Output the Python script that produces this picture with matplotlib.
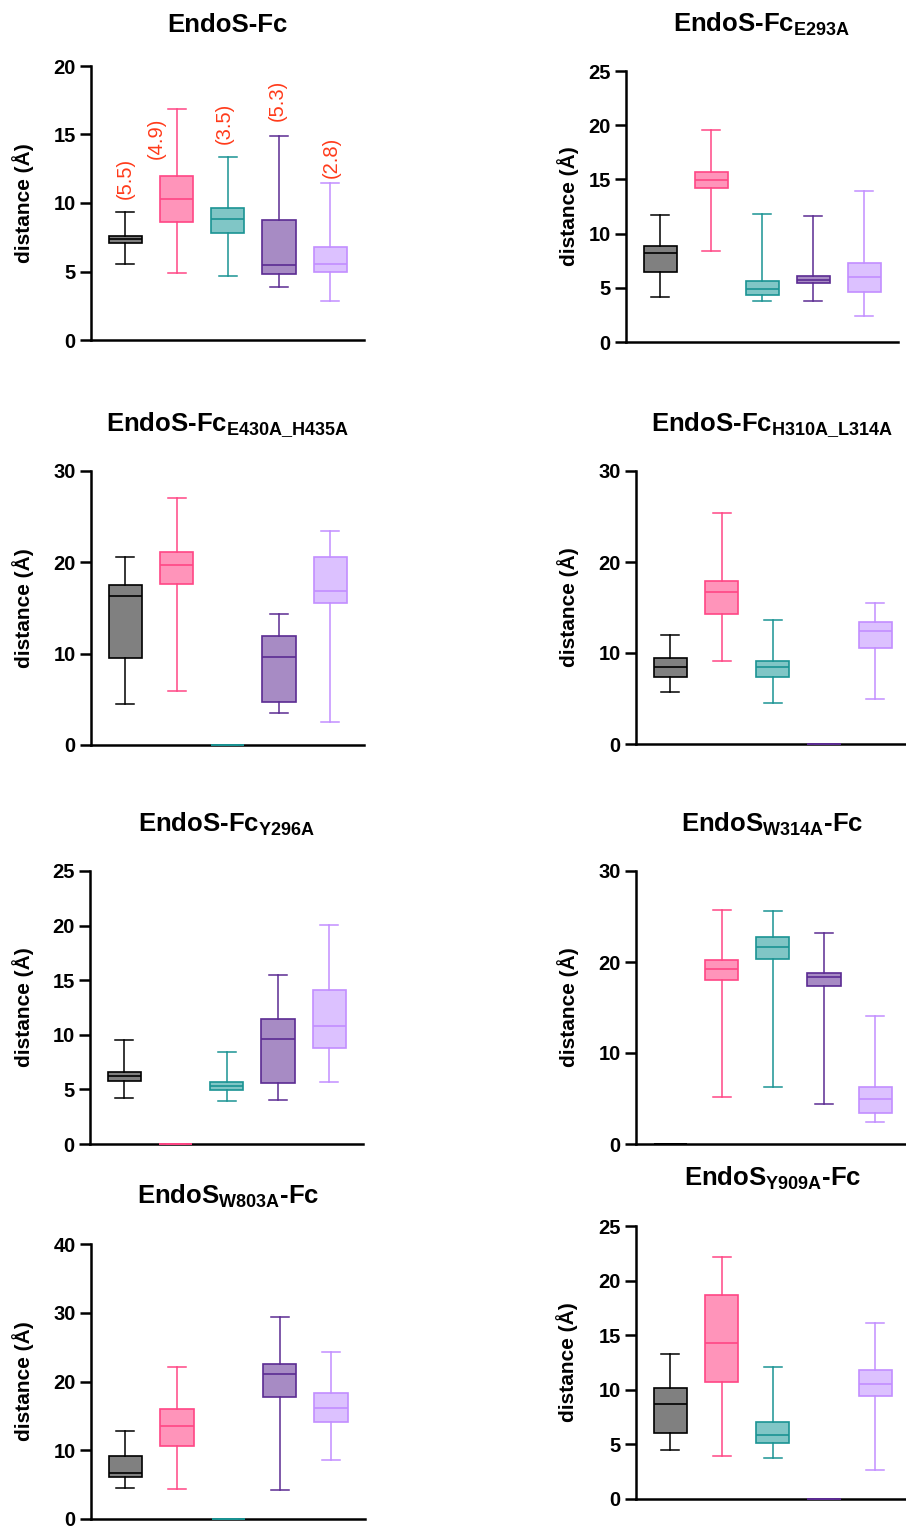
import matplotlib
matplotlib.use('Agg')
import matplotlib.pyplot as plt

plt.rcParams['font.family'] = 'Liberation Sans'
plt.rcParams['mathtext.fontset'] = 'custom'
plt.rcParams['mathtext.rm'] = 'Liberation Sans'
plt.rcParams['mathtext.bf'] = 'Liberation Sans:bold'

W, H = 906, 1528

# each group: (whisker low, Q1, median, Q3, whisker high)
wt = [(5.55, 7.08, 7.35, 7.59, 9.37), (4.91, 8.59, 10.3, 12.0, 16.86),
      (4.67, 7.83, 8.81, 9.66, 13.33), (3.84, 4.84, 5.47, 8.73, 14.9),
      (2.85, 4.94, 5.57, 6.79, 11.46)]
e293a = [(4.17, 6.47, 8.22, 8.87, 11.72), (8.37, 14.2, 14.94, 15.64, 19.57),
         (3.77, 4.33, 4.88, 5.61, 11.81), (3.77, 5.4, 5.74, 6.1, 11.63),
         (2.36, 4.6, 5.98, 7.3, 13.96)]
e430a = [(4.49, 9.49, 16.28, 17.52, 20.55), (5.88, 17.63, 19.67, 21.17, 27.04),
         (0, 0, 0, 0, 0), (3.5, 4.74, 9.67, 11.97, 14.34),
         (2.55, 15.51, 16.86, 20.55, 23.43)]
h310a = [(5.71, 7.39, 8.42, 9.48, 12.0), (9.15, 14.31, 16.68, 17.89, 25.39),
         (4.5, 7.35, 8.42, 9.15, 13.68), (0, 0, 0, 0, 0),
         (4.94, 10.54, 12.37, 13.43, 15.51)]
y296a = [(4.23, 5.79, 6.24, 6.61, 9.53), (0, 0, 0, 0, 0),
         (3.96, 4.93, 5.33, 5.66, 8.4), (3.99, 5.57, 9.62, 11.48, 15.5),
         (5.66, 8.8, 10.84, 14.07, 20.04)]
w314a = [(0, 0, 0, 0, 0), (5.16, 18.02, 19.19, 20.22, 25.75),
         (6.23, 20.37, 21.65, 22.75, 25.6), (4.4, 17.4, 18.32, 18.79, 23.22),
         (2.42, 3.44, 4.91, 6.26, 14.07)]
w803a = [(4.51, 6.06, 6.64, 9.16, 12.8), (4.41, 10.62, 13.58, 16.05, 22.16),
         (0, 0, 0, 0, 0), (4.27, 17.79, 21.14, 22.5, 29.43),
         (8.63, 14.06, 16.1, 18.28, 24.24)]
y909a = [(4.51, 6.07, 8.69, 10.12, 13.32), (3.93, 10.76, 14.3, 18.66, 22.2),
         (3.75, 5.12, 5.88, 7.04, 12.07), (0, 0, 0, 0, 0),
         (2.65, 9.39, 10.55, 11.83, 16.13)]

# numbers over the first panel
wt_notes = ['(5.5)', '(4.9)', '(3.5)', '(5.3)', '(2.8)']
wt_note_x = [1.0, 1.6, 2.94, 3.96, 5.02]
wt_note_y = [10.3, 13.2, 14.3, 16.0, 11.8]

fills = ['#808080', '#FF94BA', '#80C6C6', '#A78BC4', '#DCC1FF']
edges = ['#000000', '#FF4685', '#1A9393', '#5B2B92', '#C28EFF']

titles = [r'EndoS-Fc',
          r'EndoS-Fc$_{\mathbf{E293A}}$',
          r'EndoS-Fc$_{\mathbf{E430A\_H435A}}$',
          r'EndoS-Fc$_{\mathbf{H310A\_L314A}}$',
          r'EndoS-Fc$_{\mathbf{Y296A}}$',
          r'EndoS$_{\mathbf{W314A}}$-Fc',
          r'EndoS$_{\mathbf{W803A}}$-Fc',
          r'EndoS$_{\mathbf{Y909A}}$-Fc']
datasets = [wt, e293a, e430a, h310a, y296a, w314a, w803a, y909a]
ymaxes = [20, 25, 30, 30, 25, 30, 40, 25]
ysteps = [5, 5, 10, 10, 5, 10, 10, 5]

# layout in pixels: left, top, right, bottom, ylabel right edge, title baseline
rects = [(91, 66, 364, 340, 34, 32),
         (626, 71, 898, 342, 579, 32),
         (91, 471, 364, 745, 34, 432),
         (636, 471, 909, 744, 579, 432),
         (90, 871, 363, 1144, 34, 832),
         (636, 871, 909, 1144, 579, 832),
         (91, 1244, 365, 1519, 34, 1204),
         (636, 1226, 909, 1499, 578, 1186)]

fig = plt.figure(figsize=(W / 100, H / 100), dpi=100)

for i, (data, rect) in enumerate(zip(datasets, rects)):
    l, t, r, b, lx, ty = rect
    ax = fig.add_axes([l / W, 1 - b / H, (r - l) / W, (b - t) / H])
    stats = []
    for lo, q1, med, q3, hi in data:
        stats.append(dict(whislo=lo, q1=q1, med=med, q3=q3, whishi=hi, fliers=[]))
    bp = ax.bxp(stats, positions=range(1, 6), widths=0.65, capwidths=0.35,
                patch_artist=True, showfliers=False, zorder=3)
    for k in range(5):
        bp['boxes'][k].set(facecolor=fills[k], edgecolor=edges[k], linewidth=1.2)
        bp['medians'][k].set(color=edges[k], linewidth=1.2)
        for j in (2 * k, 2 * k + 1):
            bp['whiskers'][j].set(color=edges[k], linewidth=1.1)
            bp['caps'][j].set(color=edges[k], linewidth=1.1)
    for key in ('boxes', 'medians', 'whiskers', 'caps'):
        for art in bp[key]:
            art.set_clip_on(False)

    ax.set_xlim(0.33, 5.66)
    ax.set_ylim(0, ymaxes[i])
    ax.set_yticks(range(0, ymaxes[i] + 1, ysteps[i]))
    ax.set_xticks([])
    for s in ('top', 'right'):
        ax.spines[s].set_visible(False)
    for s in ('left', 'bottom'):
        ax.spines[s].set_linewidth(1.8)
    ax.tick_params(axis='y', length=8, width=1.8, pad=3, labelsize=14.5)
    for lab in ax.get_yticklabels():
        lab.set_fontweight('bold')
    ax.set_ylabel('distance (Å)', fontsize=15, fontweight='bold')
    ax.yaxis.set_label_coords((lx - l) / (r - l), 0.5)

    fig.text((l + r) / 2 / W, 1 - ty / H, titles[i], ha='center',
             va='baseline', fontsize=18.5, fontweight='bold')

    if i == 0:
        for txt, x, y in zip(wt_notes, wt_note_x, wt_note_y):
            ax.text(x, y, txt, rotation=90, ha='center', va='bottom',
                    color='#FF3A1A', fontsize=14.5)

fig.savefig('out.png', dpi=100)
